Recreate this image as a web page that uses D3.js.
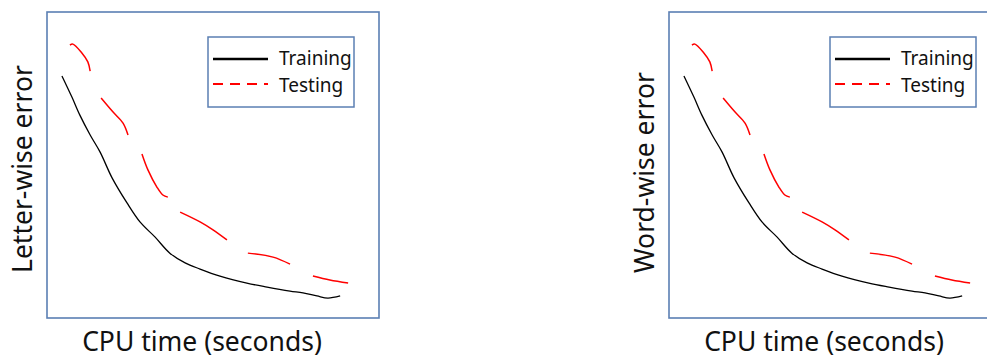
<!DOCTYPE html>
<html>
<head>
<meta charset="utf-8">
<script src="https://cdn.jsdelivr.net/npm/d3@7"></script>
<style>
  html, body { margin: 0; padding: 0; background: #fff; }
  svg { display: block; }
  text { font-family: "Noto Sans", "Open Sans", sans-serif; fill: #111; }
</style>
</head>
<body>
<svg id="chart" width="987" height="358"></svg>
<script>
// ---- data (arbitrary units, 0-100 on each axis) ----
const panels = ["Letter-wise error", "Word-wise error"];
const xLabel = "CPU time (seconds)";
const seriesNames = ["Training", "Testing"];

const trainingX = [4.5, 7.5, 9.9, 13.0, 16.0, 19.6, 24.1, 28.0, 32.5, 37.0, 41.6, 46.1, 52.1, 60.2, 66.3, 73.2, 77.1, 81.3, 84.6, 88.3];
const trainingY = [79.1, 72.2, 66.3, 59.8, 54.2, 45.8, 37.6, 31.4, 26.5, 21.2, 18.0, 16.0, 13.7, 11.4, 10.1, 8.8, 8.2, 7.2, 6.5, 7.2];

// testing curve, drawn as separate dashes (null = gap between dashes)
const testingX = [6.9, 7.8, 10.5, 12.3, 13.0, null, 16.3, 19.9, 22.9, 24.4, null, 28.6, 30.4, 33.1, 34.9, 36.4, null, 40.1, 46.1, 50.0, 54.2, null, 60.5, 68.1, 73.2, null, 80.1, 85.2, 90.7];
const testingY = [89.2, 89.5, 86.6, 83.7, 80.7, null, 71.9, 67.3, 63.7, 59.8, null, 53.6, 48.4, 42.8, 40.2, 39.5, null, 34.6, 31.4, 28.8, 25.5, null, 21.2, 19.9, 17.6, null, 13.7, 12.4, 11.4];

// ---- layout ----
const svg = d3.select("#chart");
const frameW = 332, frameH = 306;
const panelOffsets = [47, 669];
const frameTop = 12;

const x = d3.scaleLinear().domain([0, 100]).range([0, frameW]);
const y = d3.scaleLinear().domain([0, 100]).range([frameH, 0]);

const training = trainingX.map((v, i) => ({x: v, y: trainingY[i]}));
const testing = testingX.map((v, i) => ({x: v, y: testingY[i]}));

const line = d3.line()
  .defined(d => d.x !== null && d.y !== null)
  .x(d => x(d.x)).y(d => y(d.y))
  .curve(d3.curveCatmullRom.alpha(0.5));

panels.forEach((label, pi) => {
  const g = svg.append("g").attr("transform", `translate(${panelOffsets[pi]},${frameTop})`);

  g.append("rect")
    .attr("x", 0).attr("y", 0).attr("width", frameW).attr("height", frameH)
    .attr("fill", "none").attr("stroke", "#5b7fb3").attr("stroke-width", 1.6);

  g.append("path").datum(training)
    .attr("d", line).attr("fill", "none")
    .attr("stroke", "#000").attr("stroke-width", 1.3);

  g.append("path").datum(testing)
    .attr("d", line).attr("fill", "none")
    .attr("stroke", "#ff0000").attr("stroke-width", 1.5);

  // legend
  const lg = g.append("g").attr("transform", "translate(161,25)");
  lg.append("rect").attr("x", 0).attr("y", 0).attr("width", 146).attr("height", 70)
    .attr("fill", "#fff").attr("stroke", "#5b7fb3").attr("stroke-width", 1.5);
  lg.append("line").attr("x1", 5).attr("x2", 60).attr("y1", 22).attr("y2", 22)
    .attr("stroke", "#000").attr("stroke-width", 2.5);
  lg.append("line").attr("x1", 5).attr("x2", 60).attr("y1", 47).attr("y2", 47)
    .attr("stroke", "#ff0000").attr("stroke-width", 1.8).attr("stroke-dasharray", "10,7");
  lg.append("text").attr("x", 71).attr("y", 28).attr("font-size", 19).text(seriesNames[0]);
  lg.append("text").attr("x", 71).attr("y", 55).attr("font-size", 19).text(seriesNames[1]);

  // axis titles
  g.append("text")
    .attr("x", 155).attr("y", 339)
    .attr("text-anchor", "middle").attr("font-size", 26.5)
    .text(xLabel);
  g.append("text")
    .attr("transform", `translate(-15,261) rotate(-90)`)
    .attr("text-anchor", "start").attr("font-size", 26.5)
    .text(label);
});
</script>
</body>
</html>
